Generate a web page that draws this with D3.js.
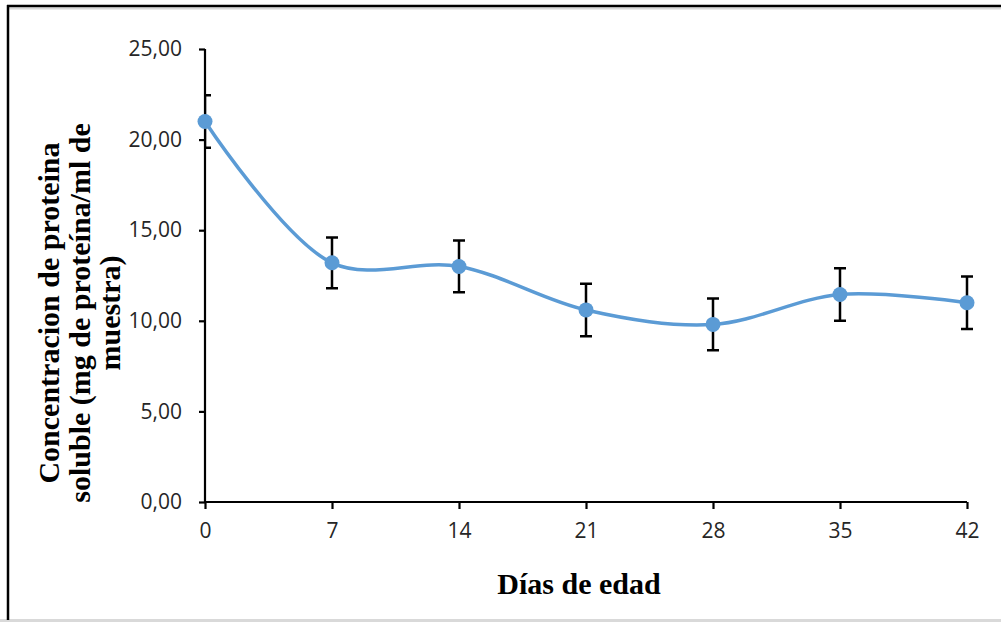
<!DOCTYPE html>
<html>
<head>
<meta charset="utf-8">
<script src="https://cdn.jsdelivr.net/npm/d3@7"></script>
<style>
  html, body { margin: 0; padding: 0; background: #fff; }
  svg { display: block; }
</style>
</head>
<body>
<script>
// ---- data ----
const days = [0, 7, 14, 21, 28, 35, 42];
const values = [21.0, 13.2, 13.0, 10.6, 9.8, 11.45, 11.0];
const errors = [1.45, 1.4, 1.43, 1.45, 1.43, 1.45, 1.45];
const yTicks = [0, 5, 10, 15, 20, 25];
const xTicks = [0, 7, 14, 21, 28, 35, 42];
const xTitle = "Días de edad";
const yTitleLines = ["Concentracion de proteina", "soluble (mg de proteína/ml de", "muestra)"];

const W = 1001, H = 622;
const svg = d3.select("body").append("svg").attr("width", W).attr("height", H);

// frame
svg.append("rect").attr("x", 0).attr("y", 0).attr("width", W).attr("height", H).attr("fill", "#fff");
svg.append("line").attr("x1", 7).attr("x2", W).attr("y1", 8.5).attr("y2", 8.5).attr("stroke", "#d9d9d9").attr("stroke-width", 2);
svg.append("line").attr("x1", 0).attr("x2", W).attr("y1", 620.5).attr("y2", 620.5).attr("stroke", "#d9d9d9").attr("stroke-width", 3);
svg.append("line").attr("x1", 7).attr("x2", W).attr("y1", 6).attr("y2", 6).attr("stroke", "#000").attr("stroke-width", 2.5);
svg.append("line").attr("x1", 8).attr("x2", 8).attr("y1", 5).attr("y2", 620).attr("stroke", "#000").attr("stroke-width", 2.5);

const x = d3.scaleLinear().domain([0, 42]).range([205, 967]);
const y = d3.scaleLinear().domain([0, 25]).range([502, 49]);

const fmt = v => d3.format(".2f")(v).replace(".", ",");

// axes
const yAxis = svg.append("g").attr("transform", `translate(${x(0)},0)`)
  .call(d3.axisLeft(y).tickValues(yTicks).tickSize(6).tickPadding(17).tickFormat(fmt));
const xAxis = svg.append("g").attr("transform", `translate(0,${y(0)})`)
  .call(d3.axisBottom(x).tickValues(xTicks).tickSize(7).tickPadding(14).tickFormat(d => d));
[yAxis, xAxis].forEach(g => {
  g.select(".domain").attr("stroke", "#000").attr("stroke-width", 2.2);
  g.selectAll(".tick line").attr("stroke", "#000").attr("stroke-width", 2.2);
  g.selectAll(".tick text").attr("fill", "#262626")
    .style("font-family", "'Open Sans', sans-serif").style("font-size", "21px");
});
yAxis.select(".domain").attr("d", `M0,${y(25)}V${y(0)}`);
yAxis.selectAll(".tick line").attr("x1", 0);
xAxis.select(".domain").attr("d", `M${x(0)},0H${x(42)}`);

// clip for error bars (plot area)
svg.append("clipPath").attr("id", "plot").append("rect")
  .attr("x", x(0)).attr("y", 0).attr("width", W - x(0)).attr("height", y(0));

const pts = days.map((d, i) => ({ d, v: values[i], e: errors[i] }));

// error bars
const eb = svg.append("g").attr("clip-path", "url(#plot)")
  .attr("stroke", "#000").attr("stroke-width", 2.5).attr("fill", "none");
pts.forEach(p => {
  const cx = x(p.d), y1 = y(p.v + p.e), y2 = y(p.v - p.e);
  eb.append("path").attr("d", `M${cx},${y1}V${y2}M${cx - 6},${y1}H${cx + 6}M${cx - 6},${y2}H${cx + 6}`);
});

// smoothed line
const line = d3.line().x(p => x(p.d)).y(p => y(p.v)).curve(d3.curveCatmullRom.alpha(0.5));
svg.append("path").datum(pts).attr("d", line)
  .attr("fill", "none").attr("stroke", "#5B9BD5").attr("stroke-width", 3.5);

// markers
svg.append("g").selectAll("circle").data(pts).join("circle")
  .attr("cx", p => x(p.d)).attr("cy", p => y(p.v)).attr("r", 7.5)
  .attr("fill", "#5B9BD5");

// titles
svg.append("text").attr("x", 579).attr("y", 594).attr("text-anchor", "middle")
  .style("font-family", "'Liberation Serif', 'Times New Roman', serif")
  .style("font-weight", "bold").style("font-size", "30px").attr("fill", "#000")
  .text(xTitle);

const yt = svg.append("g");
const baselines = [59, 90, 120];
yTitleLines.forEach((t, i) => {
  yt.append("text")
    .attr("transform", `translate(${baselines[i]},313) rotate(-90)`)
    .attr("text-anchor", "middle")
    .style("font-family", "'Liberation Serif', 'Times New Roman', serif")
    .style("font-weight", "bold").style("font-size", "30px").attr("fill", "#000")
    .text(t);
});
</script>
</body>
</html>
